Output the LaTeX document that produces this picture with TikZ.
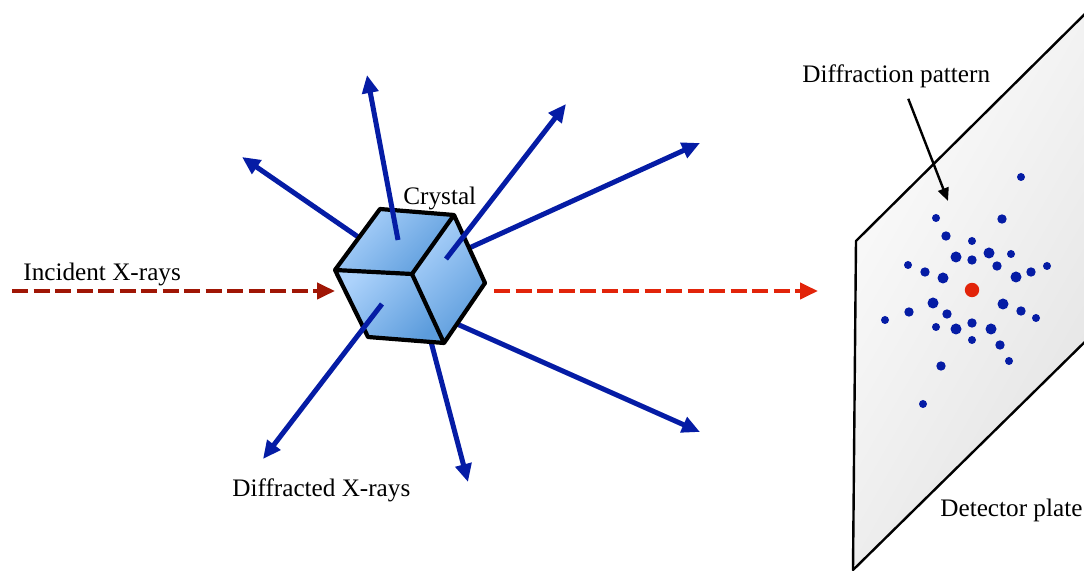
\documentclass[tikz,border=0pt]{standalone}
\usepackage{fontspec}
\setmainfont{Liberation Serif}
\usetikzlibrary{arrows.meta, positioning}

\definecolor{raybl}{RGB}{5,28,165}
\definecolor{inred}{RGB}{160,22,5}
\definecolor{outred}{RGB}{226,36,10}
\definecolor{cubelight}{RGB}{172,210,251}
\definecolor{cubedark}{RGB}{92,156,220}

\tikzset{
  ray/.style={raybl, line width=2.5pt, -{Triangle[length=9pt,width=8pt]}},
  beam/.style={line width=2pt, dash pattern=on 8pt off 2.75pt, -{Triangle[length=9pt,width=8pt]}},
  face/.style={left color=cubelight, right color=cubedark, shading angle=45},
  txt/.style={font=\fontsize{12.6}{15}\selectfont, inner sep=0pt},
  pointer/.style={black, line width=1.2pt, -{Triangle[length=6.5pt,width=5.5pt]}},
}

\begin{document}
\begin{tikzpicture}[x=0.5pt, y=-0.5pt]
\useasboundingbox (0,0) rectangle (1084,571);

% detector plate, runs off the right edge
\begin{scope}
\clip (0,0) rectangle (1084,571);
\shade[left color=gray!2, right color=gray!22, shading angle=60]
  (853,570) -- (856,241) -- (1100,-1) -- (1100,327) -- cycle;
\draw[line width=1.2pt, line join=round] (1100,327) -- (853,570) -- (856,241) -- (1100,-1);
\end{scope}

% spots on the plate
\foreach \x/\y in {1021/177, 936/218, 972/241, 1011/254, 908/265, 1047/266, 885/320, 1036/318, 936/327, 972/340, 1009/361, 923/404}
  \fill[raybl] (\x,\y) circle (4);
\foreach \x/\y in {1002/219, 946/236, 972/260, 997/266, 925/272, 1031/272, 909/312, 947/314, 1021/311, 972/323, 1000/345, 941/366}
  \fill[raybl] (\x,\y) circle (4.7);
\foreach \x/\y in {956/257, 989/253, 943/278, 1016/277, 933/303, 1003/304, 956/329, 991/329}
  \fill[raybl] (\x,\y) circle (5.5);
\fill[outred] (972,290) circle (7.2);

% corners of the crystal
\coordinate (L) at (335,270);
\coordinate (TL) at (380,209);
\coordinate (TR) at (454,215);
\coordinate (R) at (485,283);
\coordinate (B) at (444,343);
\coordinate (BL) at (368,337);
\coordinate (C) at (412,274);

% rays leaving from behind the crystal
\coordinate (nw) at (242,157);
\coordinate (ene) at (700,143);
\coordinate (ese) at (700,432);
\coordinate (s) at (468,482);
\coordinate (ese0) at (430,312);
\coordinate (s0) at (420,300);
\draw[ray] (C) -- (nw);
\draw[ray] (C) -- (ene);
\draw[ray] (ese0) -- (ese);
\draw[ray] (s0) -- (s);

% crystal
\shade[face] (L) -- (TL) -- (TR) -- (C) -- cycle;
\shade[face] (C) -- (TR) -- (R) -- (B) -- cycle;
\shade[face] (L) -- (C) -- (B) -- (BL) -- cycle;
\draw[line width=2.1pt, line join=round] (L) -- (TL) -- (TR) -- (R) -- (B) -- (BL) -- cycle
  (L) -- (C) -- (TR) (C) -- (B);

% rays in front of the crystal
\coordinate (n0) at (398,240);
\coordinate (n) at (367,75);
\coordinate (ne0) at (446,259);
\coordinate (ne) at (566,104);
\coordinate (sw0) at (382,304);
\coordinate (sw) at (263,459);
\draw[ray] (n0) -- (n);
\draw[ray] (ne0) -- (ne);
\draw[ray] (sw0) -- (sw);

% incoming and transmitted beam
\coordinate (src) at (12,291);
\coordinate (hit) at (335,291);
\coordinate (out) at (494,291);
\coordinate (plate) at (818,291);
\draw[beam, inred] (src) -- (hit);
\draw[beam, outred] (out) -- (plate);

% labels
\node[txt, anchor=base west] (incident) at (23,281) {Incident X-rays};
\node[txt, anchor=base west] (crystal) at (403,205) {Crystal};
\node[txt, anchor=base west] (diffracted) at (232,497) {Diffracted X-rays};
\node[txt, anchor=base west] (pattern) at (802,83) {Diffraction pattern};
\node[txt, anchor=base west] (detector) at (940,517) {Detector plate};

\coordinate (ptip) at (948,201);
\draw[pointer] ([xshift=6pt,yshift=-5pt]pattern.south) -- (ptip);
\end{tikzpicture}
\end{document}
